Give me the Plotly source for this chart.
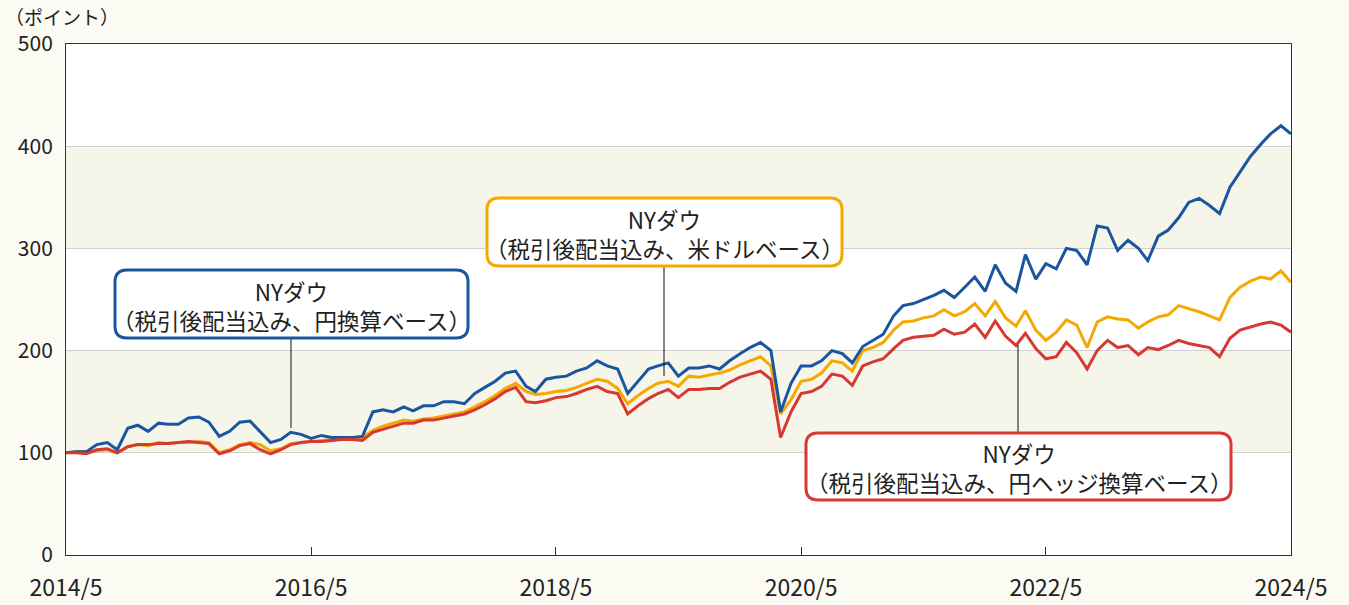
import pandas as pd
import plotly.graph_objects as go

# ---- data (monthly, 2014/5 .. 2024/5) ----
dates = pd.date_range("2014-05-01", "2024-05-01", freq="MS")

blue_yen = [
    100, 101, 101, 108, 110, 103, 124, 127, 121, 129, 128, 128,
    134, 135, 130, 116, 121, 130, 131, 121, 110, 113, 120, 118,
    114, 117, 115, 115, 115, 116, 140, 142, 140, 145, 141, 146,
    146, 150, 150, 148, 158, 164, 170, 178, 180, 165, 160, 172,
    174, 175, 180, 183, 190, 185, 182, 158, 170, 182, 185, 188,
    175, 183, 183, 185, 182, 190, 197, 203, 208, 200, 140, 168,
    185, 185, 190, 200, 197, 188, 204, 210, 216, 234, 244, 246,
    250, 254, 259, 252, 262, 272, 258, 284, 266, 258, 294, 270,
    285, 280, 300, 298, 284, 322, 320, 298, 308, 300, 288, 312,
    318, 330, 345, 349, 342, 334, 360, 375, 390, 402, 412, 420,
    412,
]

yellow_usd = [
    100, 101, 101, 102, 103, 100, 106, 108, 107, 110, 109, 110,
    110, 111, 110, 100, 103, 108, 110, 108, 102, 104, 109, 110,
    111, 112, 113, 114, 114, 115, 122, 126, 129, 132, 131, 133,
    134, 136, 138, 140, 145, 150, 156, 163, 168, 160, 157, 158,
    160, 161, 164, 168, 172, 170, 163, 148, 156, 163, 168, 170,
    165, 175, 174, 176, 178, 181, 186, 190, 194, 185, 138, 152,
    170, 172, 178, 190, 188, 180, 200, 203, 208, 220, 228, 229,
    232, 234, 240, 234, 238, 246, 234, 248, 232, 224, 239, 220,
    210, 218, 230, 225, 203, 228, 233, 231, 230, 222, 228, 233,
    235, 244, 241, 238, 234, 230, 252, 262, 268, 272, 270, 278,
    267,
]

red_hedged = [
    100, 100, 99, 103, 104, 100, 106, 108, 108, 109, 109, 110,
    111, 110, 109, 99, 102, 107, 109, 103, 99, 103, 108, 110,
    111, 111, 112, 113, 113, 112, 120, 123, 126, 129, 129, 132,
    132, 134, 136, 138, 142, 147, 153, 160, 164, 150, 149, 151,
    154, 155, 158, 162, 165, 160, 158, 138, 146, 153, 158, 162,
    154, 162, 162, 163, 163, 169, 174, 177, 180, 172, 115, 140,
    158, 160, 165, 177, 175, 166, 185, 189, 192, 202, 210, 213,
    214, 215, 221, 216, 218, 226, 213, 229, 214, 205, 217, 202,
    192, 194, 208, 198, 182, 200, 210, 203, 205, 196, 203, 201,
    205, 210, 207, 205, 203, 194, 212, 220, 223, 226, 228, 225,
    218,
]

tick_vals = ["2014-05-01", "2016-05-01", "2018-05-01", "2020-05-01", "2022-05-01", "2024-05-01"]
tick_text = ["2014/5", "2016/5", "2018/5", "2020/5", "2022/5", "2024/5"]
y_ticks = [0, 100, 200, 300, 400, 500]

label_blue = "NYダウ<br>（税引後配当込み、円換算ベース）"
label_yellow = "NYダウ<br>（税引後配当込み、米ドルベース）"
label_red = "NYダウ<br>（税引後配当込み、円ヘッジ換算ベース）"

BLUE = "#1a56a0"
YELLOW = "#f5a900"
RED = "#d63832"
FONT = "Noto Sans CJK JP"
BG = "#fbfbf4"

W, H = 1349, 605
ML, MR, MT, MB = 66, 58, 44, 50
PW, PH = W - ML - MR, H - MT - MB


def px(x):
    return (x - ML) / PW


def py(y):
    return (H - MB - y) / PH


def rounded_rect(x0, y0, x1, y1, r=12):
    X0, X1 = px(x0), px(x1)
    Y0, Y1 = py(y0), py(y1)  # Y0 top, Y1 bottom (paper)
    rx, ry = r / PW, r / PH
    return (f"M {X0+rx},{Y0} L {X1-rx},{Y0} Q {X1},{Y0} {X1},{Y0-ry} "
            f"L {X1},{Y1+ry} Q {X1},{Y1} {X1-rx},{Y1} "
            f"L {X0+rx},{Y1} Q {X0},{Y1} {X0},{Y1+ry} "
            f"L {X0},{Y0-ry} Q {X0},{Y0} {X0+rx},{Y0} Z")


fig = go.Figure()
fig.add_trace(go.Scatter(x=dates, y=yellow_usd, mode="lines",
                         line=dict(color=YELLOW, width=3), name="米ドルベース"))
fig.add_trace(go.Scatter(x=dates, y=blue_yen, mode="lines",
                         line=dict(color=BLUE, width=3), name="円換算ベース"))
fig.add_trace(go.Scatter(x=dates, y=red_hedged, mode="lines",
                         line=dict(color=RED, width=3), name="円ヘッジ換算ベース"))

shapes = []
# shaded bands
for lo, hi in [(100, 200), (300, 400)]:
    shapes.append(dict(type="rect", xref="paper", yref="y", x0=0, x1=1, y0=lo, y1=hi,
                       fillcolor="#f6f5ea", line=dict(width=0), layer="below"))

# leader lines
for x, y0, y1 in [(291, 338, 428), (664, 266, 376), (1018, 433, 345)]:
    shapes.append(dict(type="line", xref="paper", yref="paper",
                       x0=px(x), x1=px(x), y0=py(y0), y1=py(y1),
                       line=dict(color="#111111", width=1)))

# rounded label boxes
boxes = [((115, 270, 468, 338), BLUE, label_blue),
         ((487, 198, 842, 266), YELLOW, label_yellow),
         ((806, 433, 1231, 500), RED, label_red)]
annotations = []
for (x0, y0, x1, y1), col, txt in boxes:
    shapes.append(dict(type="path", xref="paper", yref="paper",
                       path=rounded_rect(x0, y0, x1, y1),
                       fillcolor="white", line=dict(color=col, width=3), layer="above"))
    annotations.append(dict(xref="paper", yref="paper", x=px((x0 + x1) / 2), y=py((y0 + y1) / 2 + 1),
                            text=txt, showarrow=False, align="center",
                            font=dict(family=FONT, size=22.5, color="#222222"),
                            xanchor="center", yanchor="middle"))

annotations.append(dict(xref="paper", yref="paper", x=px(3), y=py(16), text="（ポイント）",
                        showarrow=False, xanchor="left", yanchor="middle",
                        font=dict(family=FONT, size=19, color="#222222")))

fig.update_layout(
    width=W, height=H,
    margin=dict(l=ML, r=MR, t=MT, b=MB),
    paper_bgcolor=BG,
    plot_bgcolor="white",
    showlegend=False,
    font=dict(family=FONT, size=21, color="#222222"),
    shapes=shapes,
    annotations=annotations,
    xaxis=dict(
        type="date",
        range=["2014-05-01", "2024-05-01"],
        tickvals=tick_vals, ticktext=tick_text,
        ticks="inside", ticklen=8, tickcolor="#333333", tickwidth=1,
        showgrid=False, zeroline=False,
        showline=True, linecolor="#333333", linewidth=1, mirror=True,
        ticklabelstandoff=12, automargin=False,
        tickfont=dict(family=FONT, size=23, color="#222222"),
    ),
    yaxis=dict(
        range=[0, 500],
        tickvals=y_ticks,
        showgrid=True, gridcolor="#cfcfcf", gridwidth=1.2,
        zeroline=False,
        showline=True, linecolor="#333333", linewidth=1, mirror=True,
        ticks="", ticklabelstandoff=8, automargin=False,
        tickfont=dict(family=FONT, size=21, color="#222222"),
    ),
)

fig.write_html(
    "out.html",
    config={"displayModeBar": False},
    post_script=f"document.body.style.margin='0';document.body.style.background='{BG}';"
                "document.documentElement.style.overflow='hidden';",
)
